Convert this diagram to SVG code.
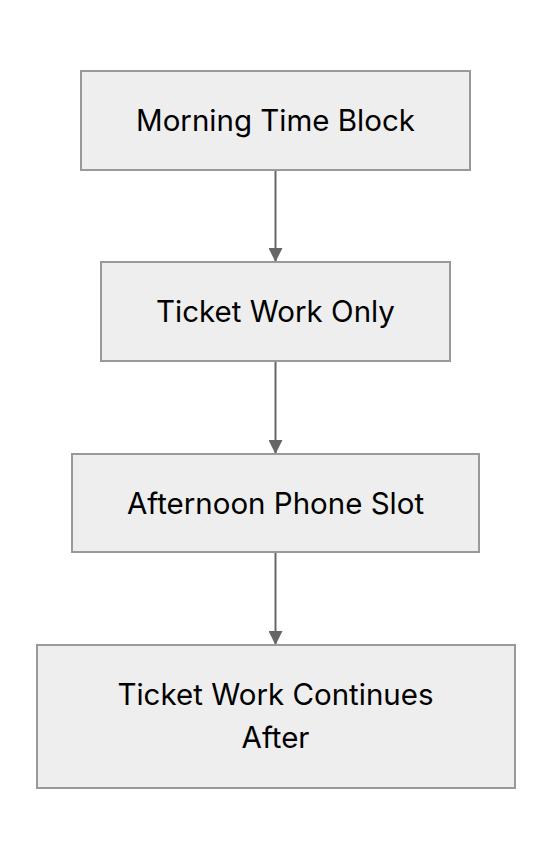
<svg xmlns="http://www.w3.org/2000/svg" width="552" height="860" viewBox="0 0 552 860">
<style>
.box{fill:#eeeeee;stroke:#999999;stroke-width:2}
.lbl{font-family:Inter,"Noto Sans",sans-serif;font-size:29.5px;fill:#000;text-anchor:middle}
.edge{stroke:#666666;stroke-width:2;fill:none}
</style>
<defs>
<marker id="arr" viewBox="0 0 10 10" refX="10" refY="5" markerWidth="7" markerHeight="7" markerUnits="strokeWidth" orient="auto">
<path d="M0,0 L10,5 L0,10 z" fill="#666666"/>
</marker>
</defs>
<rect width="552" height="860" fill="#ffffff"/>
<g id="edges">
<line class="edge" x1="275.5" y1="171" x2="275.5" y2="262" marker-end="url(#arr)"/>
<line class="edge" x1="275.5" y1="362" x2="275.5" y2="454" marker-end="url(#arr)"/>
<line class="edge" x1="275.5" y1="553" x2="275.5" y2="645" marker-end="url(#arr)"/>
</g>
<g id="n1">
<rect class="box" x="81" y="71" width="389" height="99"/>
<text class="lbl" x="275.5" y="131">Morning Time Block</text>
</g>
<g id="n2">
<rect class="box" x="101" y="262" width="349" height="99"/>
<text class="lbl" x="275.5" y="322">Ticket Work Only</text>
</g>
<g id="n3">
<rect class="box" x="72" y="454" width="407" height="98"/>
<text class="lbl" x="275.5" y="514">Afternoon Phone Slot</text>
</g>
<g id="n4">
<rect class="box" x="37" y="645" width="478" height="143"/>
<text class="lbl" x="275.5" y="705">Ticket Work Continues</text>
<text class="lbl" x="275.5" y="748">After</text>
</g>
</svg>
